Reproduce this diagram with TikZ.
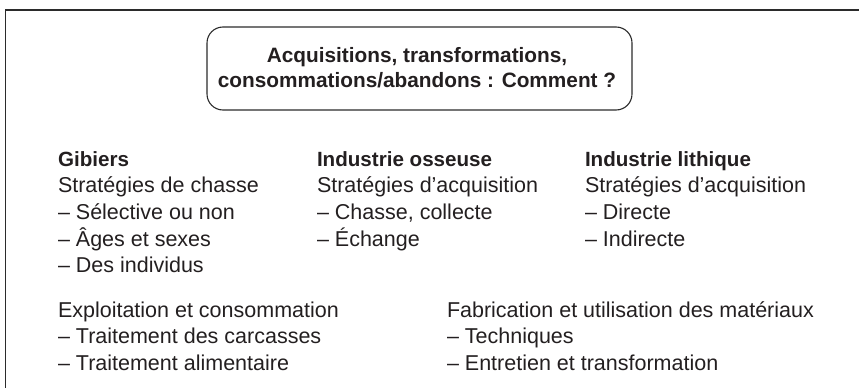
\documentclass[tikz,border=0pt]{standalone}
\usepackage{fontspec}
\setmainfont{Liberation Sans}
\definecolor{ink}{HTML}{231F20}
\definecolor{frame}{HTML}{2B2B2B}
\newcommand{\bodyfont}{\fontsize{21.5}{26.7}\selectfont}
\newcommand{\headfont}{\fontsize{20.6}{26.7}\selectfont\bfseries}
\tikzset{
  block/.style={anchor=base west, inner sep=0pt, outer sep=0pt, text=ink, font=\bodyfont},
  qbox/.style={draw=frame, line width=1.1pt, rounded corners=16pt},
  framel/.style={draw=frame, line width=1.8pt}
}
\begin{document}
\begin{tikzpicture}[x=1pt,y=-1pt]
\useasboundingbox (0,0) rectangle (859,388);
% outer frame (open at right and bottom)
\coordinate (fr) at (870,10);
\coordinate (fc) at (5.5,10);
\coordinate (fb) at (5.5,400);
\draw[framel] (fr) -- (fc) -- (fb);
% question box
\draw[qbox] (207,27) rectangle (632,110);
\node[anchor=base, inner sep=0pt, text=ink] (q) at (417,62)
  {\fontsize{20.8}{25}\selectfont\bfseries\begin{tabular}[t]{@{}c@{}}Acquisitions, transformations,\\ consommations/abandons : Comment ?\end{tabular}};
% columns
\node[block] (gib) at (58,166)
  {\begin{tabular}[t]{@{}l@{}}{\headfont Gibiers}\\ Stratégies de chasse\\ – Sélective ou non\\ – Âges et sexes\\ – Des individus\end{tabular}};
\node[block] (oss) at (317,166)
  {\begin{tabular}[t]{@{}l@{}}{\headfont Industrie osseuse}\\ Stratégies d’acquisition\\ – Chasse, collecte\\ – Échange\end{tabular}};
\node[block] (lit) at (585,166)
  {\begin{tabular}[t]{@{}l@{}}{\headfont Industrie lithique}\\ Stratégies d’acquisition\\ – Directe\\ – Indirecte\end{tabular}};
\node[block] (exp) at (58,317)
  {\begin{tabular}[t]{@{}l@{}}Exploitation et consommation\\ – Traitement des carcasses\\ – Traitement alimentaire\end{tabular}};
\node[block] (fab) at (447,317)
  {\begin{tabular}[t]{@{}l@{}}Fabrication et utilisation des matériaux\\ – Techniques\\ – Entretien et transformation\end{tabular}};
\end{tikzpicture}
\end{document}
